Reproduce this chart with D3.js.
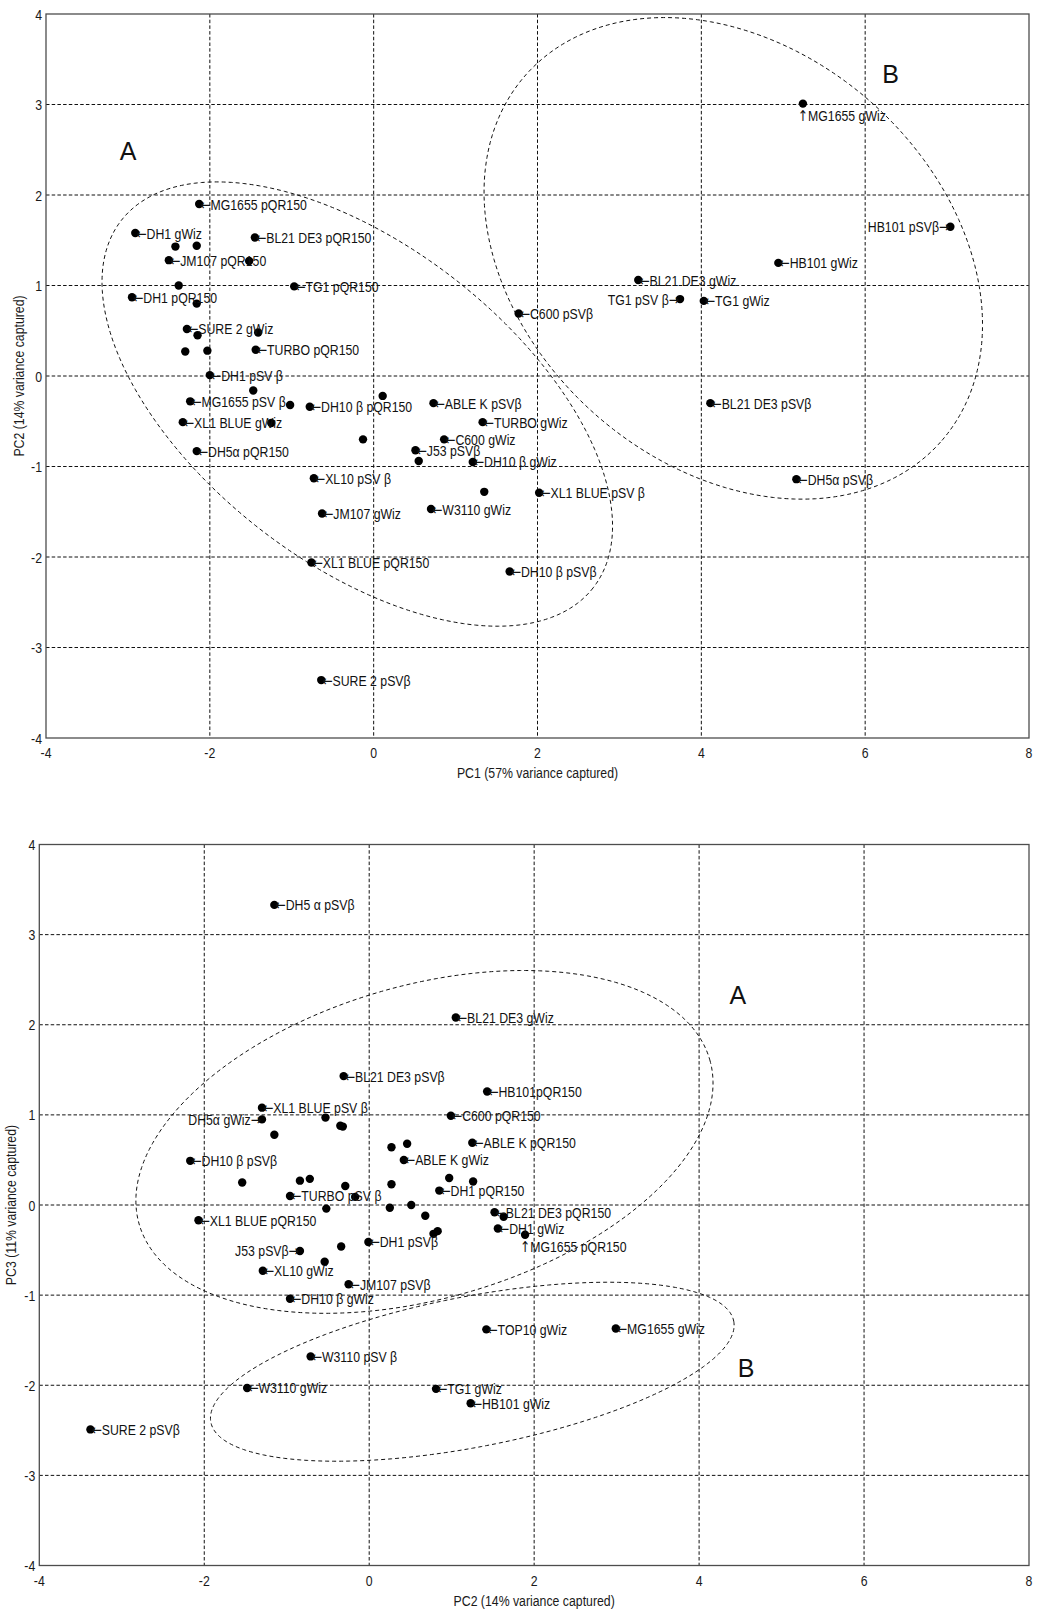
<!DOCTYPE html>
<html><head><meta charset="utf-8">
<script src="https://cdn.jsdelivr.net/npm/d3@7"></script>
<style>body{margin:0;background:#fff}svg{display:block}</style>
</head><body>
<script>
// ---------- data ----------
const ticksX = [-4, -2, 0, 2, 4, 6, 8];
const ticksY = [-4, -3, -2, -1, 0, 1, 2, 3, 4];

// Plot 1: PC1 vs PC2
const topNames = ["MG1655 pQR150","DH1 gWiz","","","BL21 DE3 pQR150","JM107 pQR150","","TG1 pQR150","","DH1 pQR150",
  "","SURE 2 gWiz","","","","","TURBO pQR150","DH1 pSV β","","",
  "MG1655 pSV β","","DH10 β pQR150","ABLE K pSVβ","XL1 BLUE gWiz","","TURBO gWiz","DH5α pQR150","","C600 gWiz",
  "J53 pSVβ","","DH10 β gWiz","XL10 pSV β","","XL1 BLUE pSV β","W3110 gWiz","JM107 gWiz","XL1 BLUE pQR150","DH10 β pSVβ",
  "SURE 2 pSVβ","MG1655 gWiz","HB101 pSVβ","HB101 gWiz","BL21 DE3 gWiz","TG1 pSV β","TG1 gWiz","C600 pSVβ","BL21 DE3 pSVβ","DH5α pSVβ"];
const topPC1 = [-2.13,-2.91,-2.42,-2.16,-1.45,-2.50,-1.52,-0.97,-2.38,-2.95,
  -2.16,-2.28,-2.15,-1.41,-2.30,-2.03,-1.44,-2.00,-1.47,0.11,
  -2.24,-1.02,-0.78,0.73,-2.33,-1.25,1.33,-2.16,-0.13,0.86,
  0.51,0.55,1.21,-0.73,1.35,2.02,0.70,-0.63,-0.76,1.66,
  -0.64,5.24,7.04,4.94,3.23,3.74,4.03,1.77,4.11,5.16];
const topPC2 = [1.90,1.58,1.43,1.44,1.53,1.28,1.27,0.99,1.00,0.87,
  0.80,0.52,0.45,0.48,0.27,0.28,0.29,0.01,-0.16,-0.22,
  -0.28,-0.32,-0.34,-0.30,-0.51,-0.52,-0.51,-0.83,-0.70,-0.70,
  -0.82,-0.94,-0.95,-1.13,-1.28,-1.29,-1.47,-1.52,-2.06,-2.16,
  -3.36,3.01,1.65,1.25,1.06,0.85,0.83,0.69,-0.30,-1.14];
const topLabelsLeft = ["HB101 pSVβ","TG1 pSV β"];
const topLabelsBelow = ["MG1655 gWiz"];
// ellipses: centre, two conjugate semi-axis vectors (data units)
const topEllipseCentres = [[-0.20,-0.31],[4.39,1.30]];
const topEllipseU = [[2.88,-2.03],[2.53,-2.03]];
const topEllipseV = [[-1.19,-1.38],[-1.69,-1.72]];
const topGroupLetters = ["A","B"];
const topGroupLetterPos = [[-3.10,2.39],[6.21,3.24]];

// Plot 2: PC2 vs PC3
const botNames = ["DH5 α pSVβ","BL21 DE3 gWiz","BL21 DE3 pSVβ","HB101pQR150","XL1 BLUE pSV β","DH5α gWiz","C600 pQR150","","","",
  "","","","ABLE K pQR150","DH10 β pSVβ","ABLE K gWiz","","","","",
  "","","","DH1 pQR150","TURBO pSV β","","","","","",
  "XL1 BLUE pQR150","","","BL21 DE3 pQR150","","DH1 gWiz","MG1655 pQR150","J53 pSVβ","","DH1 pSVβ",
  "","XL10 gWiz","JM107 pSVβ","DH10 β gWiz","W3110 pSV β","W3110 gWiz","SURE 2 pSVβ","TG1 gWiz","HB101 gWiz","TOP10 gWiz",
  "MG1655 gWiz"];
const botPC2 = [-1.15,1.05,-0.31,1.43,-1.30,-1.30,0.99,-0.53,-0.35,-0.32,
  -1.15,0.27,0.46,1.25,-2.17,0.42,-1.54,-0.84,-0.72,-0.29,
  0.27,0.97,1.26,0.85,-0.96,-0.17,-0.52,0.25,0.51,0.68,
  -2.07,0.78,0.83,1.52,1.63,1.56,1.89,-0.84,-0.34,-0.01,
  -0.54,-1.29,-0.25,-0.96,-0.71,-1.48,-3.38,0.81,1.23,1.42,
  2.99];
const botPC3 = [3.33,2.08,1.43,1.26,1.08,0.95,0.99,0.97,0.88,0.87,
  0.78,0.64,0.68,0.69,0.49,0.50,0.25,0.27,0.29,0.21,
  0.23,0.30,0.26,0.16,0.10,0.09,-0.04,-0.03,0.00,-0.12,
  -0.17,-0.32,-0.29,-0.08,-0.13,-0.26,-0.33,-0.51,-0.46,-0.41,
  -0.63,-0.73,-0.88,-1.04,-1.68,-2.03,-2.49,-2.04,-2.20,-1.38,
  -1.37];
const botLabelsLeft = ["DH5α gWiz","J53 pSVβ"];
const botLabelsBelow = ["MG1655 pQR150"];
const botEllipseCentres = [[0.67,0.70],[1.25,-1.85]];
const botEllipseU = [[3.46,0.91],[3.17,0.56]];
const botEllipseV = [[0.52,-1.67],[0.17,-0.82]];
const botGroupLetters = ["A","B"];
const botGroupLetterPos = [[4.37,2.23],[4.47,-1.91]];

// ---------- drawing ----------
const W = 1038, H = 1609;
const FONT = "'Liberation Sans', Arial, sans-serif";
const ARROWFONT = "'DejaVu Sans', sans-serif";
const SX = 0.82;           // narrow (Arial Narrow-like) text
const FS = 15;

const svg = d3.select("body").append("svg").attr("width", W).attr("height", H)
  .attr("font-family", FONT);

function narrowText(g, x, y, s, anchor, size, rot) {
  return g.append("text")
    .attr("transform", `translate(${x},${y})` + (rot ? ` rotate(${rot})` : "") + ` scale(${SX},1)`)
    .attr("text-anchor", anchor)
    .attr("font-size", size)
    .attr("fill", "#1a1a1a")
    .text(s);
}

// label with an arrow glyph (before or after the name)
function arrowLabel(g, x, y, arrow, name, anchor, arrowFirst) {
  const t = g.append("text")
    .attr("transform", `translate(${x},${y}) scale(${SX},1)`)
    .attr("text-anchor", anchor)
    .attr("font-size", FS)
    .attr("fill", "#111");
  if (arrowFirst) {
    t.append("tspan").attr("font-family", ARROWFONT).text(arrow);
    t.append("tspan").text(name);
  } else {
    t.append("tspan").text(name);
    t.append("tspan").attr("font-family", ARROWFONT).text(arrow);
  }
  return t;
}

function panel(cfg) {
  const x = d3.scaleLinear().domain([-4, 8]).range(cfg.xr);
  const y = d3.scaleLinear().domain([-4, 4]).range(cfg.yr);
  const g = svg.append("g");
  const [x0, x1] = cfg.xr, [y0, y1] = cfg.yr;

  // grid
  g.append("g").selectAll("line").data(ticksX.filter(d => d > -4 && d < 8)).join("line")
    .attr("x1", d => x(d)).attr("x2", d => x(d)).attr("y1", y1).attr("y2", y0)
    .attr("stroke", "#111").attr("stroke-width", 1).attr("stroke-dasharray", "3.5,2.2");
  g.append("g").selectAll("line").data(ticksY.filter(d => d > -4 && d < 4)).join("line")
    .attr("y1", d => y(d)).attr("y2", d => y(d)).attr("x1", x0).attr("x2", x1)
    .attr("stroke", "#111").attr("stroke-width", 1).attr("stroke-dasharray", "3.5,2.2");

  // frame
  g.append("rect").attr("x", x0).attr("y", y1).attr("width", x1 - x0).attr("height", y0 - y1)
    .attr("fill", "none").attr("stroke", "#4d4d4d").attr("stroke-width", 1.3);

  // tick labels
  ticksX.forEach(v => narrowText(g, x(v), y0 + 20, String(v), "middle", FS));
  ticksY.forEach(v => narrowText(g, x0 - 4, y(v) + 5.5, String(v), "end", FS));

  // axis titles
  narrowText(g, (x0 + x1) / 2, y0 + 40, cfg.xlabel, "middle", FS);
  narrowText(g, cfg.ylabelX, (y0 + y1) / 2, cfg.ylabel, "middle", FS, -90);

  // ellipses
  const ts = d3.range(0, 360, 1).map(a => a * Math.PI / 180);
  const line = d3.line().x(p => x(p[0])).y(p => y(p[1])).curve(d3.curveLinearClosed);
  cfg.ec.forEach((c, i) => {
    const u = cfg.eu[i], v = cfg.ev[i];
    const pts = ts.map(t => [c[0] + u[0] * Math.cos(t) + v[0] * Math.sin(t),
                             c[1] + u[1] * Math.cos(t) + v[1] * Math.sin(t)]);
    g.append("path").attr("d", line(pts)).attr("fill", "none")
      .attr("stroke", "#111").attr("stroke-width", 1).attr("stroke-dasharray", "4,3");
  });

  // group letters
  cfg.letters.forEach((L, i) => {
    g.append("text").attr("x", x(cfg.letterPos[i][0])).attr("y", y(cfg.letterPos[i][1]))
      .attr("font-size", 25).attr("fill", "#111").text(L);
  });

  // points
  const pts = cfg.names.map((n, i) => ({ n, a: cfg.xs[i], b: cfg.ys[i] }));
  g.append("g").selectAll("circle").data(pts).join("circle")
    .attr("cx", d => x(d.a)).attr("cy", d => y(d.b)).attr("r", 4.2).attr("fill", "#000");

  // labels
  const lg = g.append("g");
  pts.filter(d => d.n).forEach(d => {
    const px = x(d.a), py = y(d.b);
    if (cfg.left.includes(d.n)) {
      arrowLabel(lg, px - 1, py + 5.5, "\u2192", d.n, "end", false);
    } else if (cfg.below.includes(d.n)) {
      const probe = lg.append("text").attr("font-size", FS).attr("font-family", ARROWFONT).text("\u2191");
      const w = probe.node().getComputedTextLength() * SX;
      probe.remove();
      arrowLabel(lg, px - w / 2, py + 17, "\u2191", d.n, "start", true);
    } else {
      arrowLabel(lg, px + 1, py + 5.5, "\u2190", d.n, "start", true);
    }
  });
}

panel({
  xr: [46, 1029], yr: [738, 14],
  names: topNames, xs: topPC1, ys: topPC2,
  left: topLabelsLeft, below: topLabelsBelow,
  ec: topEllipseCentres, eu: topEllipseU, ev: topEllipseV,
  letters: topGroupLetters, letterPos: topGroupLetterPos,
  xlabel: "PC1 (57% variance captured)", ylabel: "PC2 (14% variance captured)", ylabelX: 24
});
panel({
  xr: [39.3, 1029], yr: [1565.5, 844.5],
  names: botNames, xs: botPC2, ys: botPC3,
  left: botLabelsLeft, below: botLabelsBelow,
  ec: botEllipseCentres, eu: botEllipseU, ev: botEllipseV,
  letters: botGroupLetters, letterPos: botGroupLetterPos,
  xlabel: "PC2 (14% variance captured)", ylabel: "PC3 (11% variance captured)", ylabelX: 16
});
</script>
</body></html>
